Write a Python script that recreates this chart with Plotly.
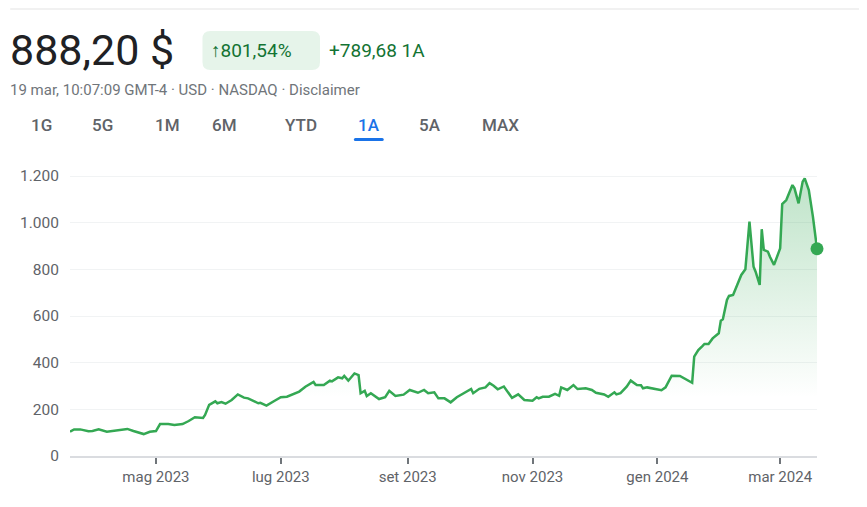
import plotly.graph_objects as go

# price (USD), one point every few days
dates = [
    "2023-03-20", "2023-03-22", "2023-03-25", "2023-03-29", "2023-03-31",
    "2023-04-03", "2023-04-07", "2023-04-10", "2023-04-14", "2023-04-17",
    "2023-04-20", "2023-04-25", "2023-04-28", "2023-05-01", "2023-05-03",
    "2023-05-07", "2023-05-10", "2023-05-14", "2023-05-17", "2023-05-20",
    "2023-05-24", "2023-05-25", "2023-05-27", "2023-05-30", "2023-05-31",
    "2023-06-02", "2023-06-04", "2023-06-07", "2023-06-10", "2023-06-13",
    "2023-06-15", "2023-06-20", "2023-06-21", "2023-06-24", "2023-06-28",
    "2023-07-01", "2023-07-04", "2023-07-08", "2023-07-10", "2023-07-13",
    "2023-07-17", "2023-07-18", "2023-07-22", "2023-07-25", "2023-07-26",
    "2023-07-29", "2023-07-31", "2023-08-01", "2023-08-03", "2023-08-04",
    "2023-08-06", "2023-08-08", "2023-08-09", "2023-08-11", "2023-08-12",
    "2023-08-14", "2023-08-18", "2023-08-21", "2023-08-23", "2023-08-26",
    "2023-08-30", "2023-09-02", "2023-09-06", "2023-09-09", "2023-09-11",
    "2023-09-14", "2023-09-16", "2023-09-19", "2023-09-22", "2023-09-25",
    "2023-09-28", "2023-10-02", "2023-10-03", "2023-10-06", "2023-10-09",
    "2023-10-11", "2023-10-13", "2023-10-15", "2023-10-18", "2023-10-22",
    "2023-10-25", "2023-10-28", "2023-11-01", "2023-11-03", "2023-11-04",
    "2023-11-06", "2023-11-09", "2023-11-12", "2023-11-14", "2023-11-15",
    "2023-11-18", "2023-11-21", "2023-11-23", "2023-11-27", "2023-11-30",
    "2023-12-02", "2023-12-06", "2023-12-08", "2023-12-11", "2023-12-12",
    "2023-12-14", "2023-12-17", "2023-12-19", "2023-12-22", "2023-12-24",
    "2023-12-25", "2023-12-27", "2023-12-31", "2024-01-03", "2024-01-05",
    "2024-01-08", "2024-01-12", "2024-01-15", "2024-01-18", "2024-01-19",
    "2024-01-21", "2024-01-23", "2024-01-24", "2024-01-26", "2024-01-28",
    "2024-01-31", "2024-02-01", "2024-02-02", "2024-02-04", "2024-02-05",
    "2024-02-07", "2024-02-09", "2024-02-11", "2024-02-13", "2024-02-14",
    "2024-02-15", "2024-02-17", "2024-02-18", "2024-02-20", "2024-02-21",
    "2024-02-22", "2024-02-24", "2024-02-25", "2024-02-27", "2024-03-01",
    "2024-03-02", "2024-03-04", "2024-03-07", "2024-03-08", "2024-03-10",
    "2024-03-12", "2024-03-13", "2024-03-15", "2024-03-17", "2024-03-19",
]
prices = [
    104, 114, 114, 106, 107,
    114, 104, 108, 111, 116,
    107, 94, 104, 107, 137,
    137, 133, 137, 150, 166,
    163, 176, 219, 234, 226,
    231, 224, 240, 264, 250,
    247, 226, 228, 216, 237,
    252, 254, 271, 276, 297,
    317, 304, 304, 323, 320,
    337, 333, 343, 323, 333,
    354, 347, 269, 279, 257,
    269, 244, 252, 279, 257,
    263, 283, 271, 283, 269,
    273, 247, 247, 230, 252,
    266, 287, 269, 288, 294,
    312, 301, 286, 298, 249,
    264, 240, 237, 252, 247,
    254, 254, 266, 258, 294,
    283, 304, 287, 290, 283,
    271, 264, 254, 273, 264,
    269, 297, 323, 304, 303,
    290, 294, 286, 282, 294,
    344, 343, 329, 314, 426,
    454, 471, 480, 480, 504,
    526, 580, 586, 669, 686,
    690, 733, 776, 800, 897,
    1004, 811, 790, 733, 972,
    883, 876, 854, 819, 890,
    1080, 1097, 1161, 1147, 1083,
    1176, 1190, 1140, 1026, 888.20,
]

month_ticks = ["2023-05-01", "2023-07-01", "2023-09-01", "2023-11-01", "2024-01-01", "2024-03-01"]
month_labels = ["mag 2023", "lug 2023", "set 2023", "nov 2023", "gen 2024", "mar 2024"]
price_ticks = [0, 200, 400, 600, 800, 1000, 1200]

tabs = ["1G", "5G", "1M", "6M", "YTD", "1A", "5A", "MAX"]
tab_x = [38, 100, 165, 222, 299, 367, 428, 499]
active_tab = "1A"

GREEN = "#34a853"
FONT = "Roboto"

# plot area in page pixels (the page body adds an 8px offset)
L, R, TOP, BOT = 67, 817, 162, 456
BODY = 8


def px(x):
    return (x - L) / (R - L)


def py(y):
    return (BOT - y) / (BOT - TOP)


def rounded_rect(x0, y0, x1, y1, r):
    # path in paper coords with rounded corners, given page pixels
    pts = [
        f"M{px(x0 + r)},{py(y0)}",
        f"L{px(x1 - r)},{py(y0)}",
        f"Q{px(x1)},{py(y0)} {px(x1)},{py(y0 + r)}",
        f"L{px(x1)},{py(y1 - r)}",
        f"Q{px(x1)},{py(y1)} {px(x1 - r)},{py(y1)}",
        f"L{px(x0 + r)},{py(y1)}",
        f"Q{px(x0)},{py(y1)} {px(x0)},{py(y1 - r)}",
        f"L{px(x0)},{py(y0 + r)}",
        f"Q{px(x0)},{py(y0)} {px(x0 + r)},{py(y0)} Z",
    ]
    return " ".join(pts)


fig = go.Figure()
fig.add_trace(
    go.Scatter(
        x=dates,
        y=prices,
        mode="lines",
        line=dict(color=GREEN, width=2.5),
        fill="tozeroy",
        fillgradient=dict(
            type="vertical",
            start=1200,
            stop=250,
            colorscale=[[0, "rgba(52,168,83,0.32)"], [1, "rgba(52,168,83,0)"]],
        ),
        hoverinfo="skip",
        cliponaxis=False,
    )
)
fig.add_trace(
    go.Scatter(
        x=[dates[-1]],
        y=[prices[-1]],
        mode="markers",
        marker=dict(color=GREEN, size=13),
        cliponaxis=False,
        hoverinfo="skip",
    )
)

annotations = [
    dict(x=px(5), y=py(50), text="888,20 $", font=dict(size=43, color="#202124"),
         xanchor="left"),
    dict(x=px(207), y=py(50), text="↑801,54%", font=dict(size=19, color="#137333"),
         xanchor="left"),
    dict(x=px(325), y=py(50), text="+789,68 1A", font=dict(size=19, color="#137333"),
         xanchor="left"),
    dict(x=px(5), y=py(90), text="19 mar, 10:07:09 GMT-4 · USD · NASDAQ · Disclaimer",
         font=dict(size=15, color="#70757a"), xanchor="left"),
]
for name, cx in zip(tabs, tab_x):
    annotations.append(
        dict(x=px(cx), y=py(125), text=name, xanchor="center",
             font=dict(size=17, weight=500,
                       color="#1a73e8" if name == active_tab else "#5f6368"))
    )
for a in annotations:
    a.update(xref="paper", yref="paper", showarrow=False, yanchor="middle")

shapes = [
    # thin rule at the very top
    dict(type="line", xref="paper", yref="paper", x0=px(7), x1=px(867),
         y0=py(9), y1=py(9), line=dict(color="#e3e3e3", width=1)),
    # chip behind the percentage
    dict(type="path", xref="paper", yref="paper", path=rounded_rect(200, 31, 318, 70, 8),
         fillcolor="#e6f4ea", line=dict(width=0), layer="below"),
    # active tab underline
    dict(type="path", xref="paper", yref="paper", path=rounded_rect(352, 138, 382, 141, 1.5),
         fillcolor="#1a73e8", line=dict(width=0)),
]

fig.update_layout(
    width=867,
    height=507,
    margin=dict(l=L - BODY, r=867 + BODY - R, t=TOP - BODY, b=507 + BODY - BOT),
    paper_bgcolor="white",
    plot_bgcolor="white",
    showlegend=False,
    separators=",.",
    font=dict(family=FONT, color="#5f6368", size=14),
    annotations=annotations,
    shapes=shapes,
    xaxis=dict(
        range=["2023-03-20", "2024-03-19"],
        tickvals=month_ticks,
        ticktext=month_labels,
        showgrid=False,
        showline=True,
        linecolor="#dadce0",
        linewidth=2,
        ticks="outside",
        ticklen=6,
        tickwidth=2,
        tickcolor="#70757a",
        tickfont=dict(size=15, color="#5f6368"),
    ),
    yaxis=dict(
        range=[0, 1260],
        tickvals=price_ticks,
        tickformat=",d",
        showgrid=True,
        gridcolor="#f1f3f4",
        gridwidth=1,
        zeroline=False,
        ticklabelstandoff=10,
        tickfont=dict(size=15.5, color="#5f6368"),
    ),
)

fig.write_html("out.html")
